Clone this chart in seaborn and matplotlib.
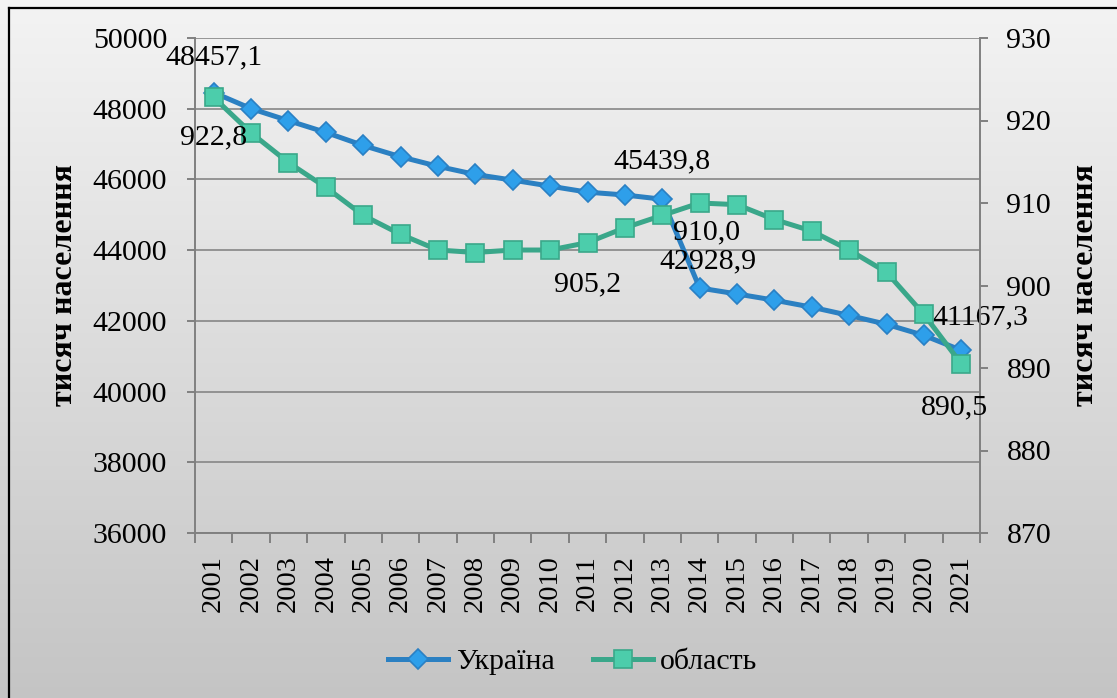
import numpy as np
import pandas as pd
import matplotlib
matplotlib.use("Agg")
import matplotlib.pyplot as plt
from matplotlib.lines import Line2D
import seaborn as sns

years = [str(y) for y in range(2001, 2022)]
ukraine = [48457.1, 48003, 47662, 47330, 46960, 46640, 46370, 46140, 45980, 45810,
           45640, 45560, 45439.8, 42928.9, 42760.5, 42584.5, 42386.4, 42153.2,
           41902.4, 41588.4, 41167.3]
region = [922.8, 918.5, 914.9, 911.9, 908.5, 906.2, 904.3, 904.0, 904.3, 904.3,
          905.2, 907.0, 908.5, 910.0, 909.8, 908.0, 906.6, 904.3, 901.6, 896.5,
          890.5]
series_names = ["Україна", "область"]
left_ticks = [36000, 38000, 40000, 42000, 44000, 46000, 48000, 50000]
right_ticks = [870, 880, 890, 900, 910, 920, 930]
ylabel = "тисяч населення"

df = pd.DataFrame({"pos": range(len(years)), "year": years,
                   "ukraine": ukraine, "region": region})


def fmt(v):
    return f"{v:.1f}".replace(".", ",")


plt.rcParams["font.family"] = ["Liberation Serif", "DejaVu Serif"]

fig = plt.figure(figsize=(11.17, 6.98), dpi=100)

# grey gradient background
bg = fig.add_axes([0, 0, 1, 1], zorder=-5)
grad = np.linspace(0.955, 0.77, 256)[:, None]
grad = np.repeat(grad, 2, axis=1)
bg.imshow(np.dstack([grad, grad, grad]), aspect="auto", extent=[0, 1, 0, 1])
bg.axis("off")

# outer frame (only left and top edges are inside the picture)
x0, y0 = 9.5 / 1117, 1 - 7.5 / 698
fig.lines.append(Line2D([x0, x0], [0, y0], transform=fig.transFigure,
                        color="black", linewidth=1.6))
fig.lines.append(Line2D([x0, 1], [y0, y0], transform=fig.transFigure,
                        color="black", linewidth=1.6))

ax = fig.add_axes([195 / 1117, 1 - 533 / 698, 785 / 1117, 495 / 698])
ax.set_facecolor("none")
ax2 = ax.twinx()

sns.lineplot(data=df, x="pos", y="ukraine", ax=ax, color="#2B80C2", linewidth=3.6,
             marker="D", markersize=10.5, markerfacecolor="#2E9FEA",
             markeredgecolor="#2A80C4", markeredgewidth=1.2, legend=False)
sns.lineplot(data=df, x="pos", y="region", ax=ax2, color="#3AA78A", linewidth=3.6,
             marker="s", markersize=13, markerfacecolor="#4CCDAB",
             markeredgecolor="#3AA88A", markeredgewidth=1.2, legend=False)

ax.set_xlim(-0.5, len(years) - 0.5)
ax.set_ylim(36000, 50000)
ax2.set_ylim(870, 930)

ax.set_yticks(left_ticks)
ax2.set_yticks(right_ticks)
ax.set_xticks(range(len(years)))
ax.set_xticklabels(years, rotation=90)
ax.set_xticks(np.arange(-0.5, len(years), 1), minor=True)
ax.set_xlabel("")

ax.grid(axis="y", color="#868686", linewidth=1.2)
ax.set_axisbelow(True)

for s in ["top", "right"]:
    ax.spines[s].set_visible(False)
for s in ["top", "left", "bottom"]:
    ax2.spines[s].set_visible(False)
for sp in [ax.spines["left"], ax.spines["bottom"], ax2.spines["right"]]:
    sp.set_color("#808080")
    sp.set_linewidth(1.4)

ax.tick_params(axis="y", labelsize=21.5, length=6, width=1.4, color="#808080", pad=14)
ax2.tick_params(axis="y", labelsize=21.5, length=6, width=1.4, color="#808080", pad=13)
ax.tick_params(axis="x", which="major", labelsize=20.5, length=0, pad=16)
ax.tick_params(axis="x", which="minor", length=7, width=1.4, color="#808080")

ax.set_ylabel(ylabel, fontsize=23, fontweight="bold", va="center")
ax.yaxis.set_label_coords(-0.166, 0.5)
ax2.set_ylabel(ylabel, fontsize=23, fontweight="bold", va="center")
ax2.yaxis.set_label_coords(1.134, 0.5)

# data labels
ukr_labels = {0: (0, 25), 12: (0, 27), 13: (6, 19), 20: (14, 24)}
reg_labels = {0: (0, -29), 10: (0, -30), 13: (5, -21), 20: (-5, -31)}
for i, off in ukr_labels.items():
    ax.annotate(fmt(ukraine[i]), (i, ukraine[i]), xytext=off, textcoords="offset points",
                ha="center", va="center", fontsize=21.5)
for i, off in reg_labels.items():
    ax2.annotate(fmt(region[i]), (i, region[i]), xytext=off, textcoords="offset points",
                 ha="center", va="center", fontsize=21.5)

handles = [ax.lines[0], ax2.lines[0]]
fig.legend(handles, series_names, loc="center", bbox_to_anchor=(573 / 1117, 1 - 662 / 698),
           ncol=2, frameon=False, prop={"family": ["Liberation Serif"], "size": 21.5},
           handlelength=2.0, handletextpad=0.25, columnspacing=1.3)

fig.savefig("out.png", dpi=100)
